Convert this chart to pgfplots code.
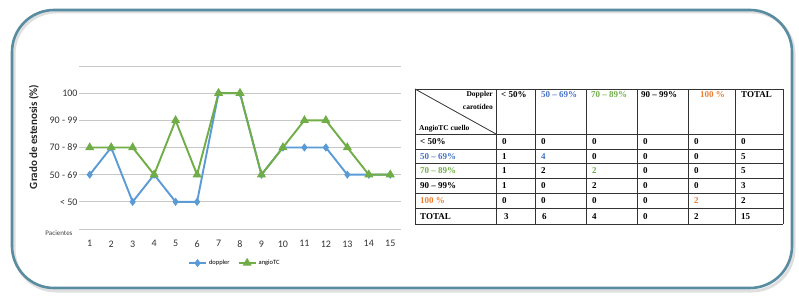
\documentclass[border=0pt]{standalone}
\usepackage{fontspec}
\setmainfont{Carlito}
\newfontfamily\tnr{Liberation Serif}
\usepackage{pgfplots}
\pgfplotsset{compat=1.18}
\definecolor{dblue}{RGB}{91,155,213}
\definecolor{dgreen}{RGB}{112,173,71}
\definecolor{tblue}{RGB}{68,114,196}
\definecolor{tgreen}{RGB}{112,173,71}
\definecolor{torange}{RGB}{237,125,49}
\definecolor{frame}{RGB}{88,140,160}
\begin{document}
\begin{tikzpicture}
\path[use as bounding box] (0pt,0pt) rectangle (799pt,297pt);
% frame
\draw[gray!25, line width=3pt, rounded corners=42pt] (14pt,6pt) rectangle (794pt,285pt);
\draw[frame, line width=2.6pt, rounded corners=42pt] (12pt,9pt) rectangle (792pt,287pt);
\begin{axis}[
  at={(79pt,68pt)}, anchor=south west, scale only axis,
  width=322pt, height=163pt,
  xmin=0.5, xmax=15.5, ymin=0, ymax=6,
  xtick={1,...,15}, ytick={0,...,6},
  yticklabels={,{< 50},{50 - 69},{70 - 89},{90 - 99},100,},
  ymajorgrids, grid style={black!22, line width=0.9pt},
  axis line style={draw=none}, major tick length=0pt,
  /pgf/number format/assume math mode=true,
  tick label style={font=\fontsize{10}{11}\selectfont, text=black!80},
  yticklabel style={xshift=2pt},
  xticklabel style={yshift=-8pt},
  clip=false,
  legend columns=2,
  legend style={at={(axis description cs:0.484,-0.209)}, anchor=center, draw=none, fill=none,
    font=\fontsize{6.5}{7}\selectfont, /tikz/every even column/.append style={column sep=6pt}},
]
\addplot[dblue, line width=1.9pt, mark=diamond*, mark size=2.6pt] coordinates {
(1,2)(2,3)(3,1)(4,2)(5,1)(6,1)(7,5)(8,5)(9,2)(10,3)(11,3)(12,3)(13,2)(14,2)(15,2)};
\addlegendentry{doppler}
\addplot[dgreen, line width=1.9pt, mark=triangle*, mark size=3.4pt] coordinates {
(1,3)(2,3)(3,3)(4,2)(5,4)(6,2)(7,5)(8,5)(9,2)(10,3)(11,4)(12,4)(13,3)(14,2)(15,2)};
\addlegendentry{angioTC}
\end{axis}
\node[rotate=90, font=\fontsize{11}{12}\selectfont\bfseries, text=black!85] at (34pt,160pt) {Grado de estenosis (\%)};
\node[anchor=east, font=\fontsize{7}{8}\selectfont, text=black!75] at (76pt,64pt) {Pacientes};
% table
\begin{scope}[line width=0.8pt, draw=black!80]
\foreach \x in {415,496,535,586,637,688,735,783} \draw (\x pt,73pt) -- (\x pt,208pt);
\foreach \y in {208,163,148,133.5,118.5,103.5,88.5,73} \draw (415pt,\y pt) -- (783pt,\y pt);
\draw (415pt,208pt) -- (496pt,163pt);
\end{scope}
\begin{scope}[every node/.style={font=\tnr\bfseries\fontsize{9}{10}\selectfont, inner sep=0pt, anchor=west}]
\node[anchor=east, font=\tnr\bfseries\fontsize{7.5}{8}\selectfont] at (493pt,202pt) {Doppler};
\node[anchor=east, font=\tnr\bfseries\fontsize{7.5}{8}\selectfont] at (493pt,190pt) {carotídeo};
\node[font=\tnr\bfseries\fontsize{7.5}{8}\selectfont] at (419pt,168pt) {AngioTC cuello};
\node at (501pt,202pt) {< 50\%};
\node[text=tblue] at (541pt,202pt) {50 – 69\%};
\node[text=tgreen] at (591pt,202pt) {70 – 89\%};
\node at (641pt,202pt) {90 – 99\%};
\node[text=torange] at (700pt,202pt) {100 \%};
\node at (741pt,202pt) {TOTAL};
% rows
\node at (420pt,155.5pt) {< 50\%};
\node[text=tblue] at (420pt,140.75pt) {50 – 69\%};
\node[text=tgreen] at (420pt,126pt) {70 – 89\%};
\node at (420pt,111pt) {90 – 99\%};
\node[text=torange] at (420pt,96pt) {100 \%};
\node at (420pt,80.75pt) {TOTAL};
% values
\foreach \y/\a/\b/\c/\d/\e/\f in {155.5/0/0/0/0/0/0, 111/1/0/2/0/0/3} {
  \node at (502pt,\y pt) {\a}; \node at (541pt,\y pt) {\b}; \node at (592pt,\y pt) {\c};
  \node at (643pt,\y pt) {\d}; \node at (694pt,\y pt) {\e}; \node at (741pt,\y pt) {\f};
}
\node at (502pt,140.75pt) {1}; \node[text=tblue] at (541pt,140.75pt) {4}; \node at (592pt,140.75pt) {0};
\node at (643pt,140.75pt) {0}; \node at (694pt,140.75pt) {0}; \node at (741pt,140.75pt) {5};
\node at (502pt,126pt) {1}; \node at (541pt,126pt) {2}; \node[text=tgreen] at (592pt,126pt) {2};
\node at (643pt,126pt) {0}; \node at (694pt,126pt) {0}; \node at (741pt,126pt) {5};
\node at (502pt,96pt) {0}; \node at (541pt,96pt) {0}; \node at (592pt,96pt) {0};
\node at (643pt,96pt) {0}; \node[text=torange] at (694pt,96pt) {2}; \node at (741pt,96pt) {2};
\node at (504pt,80.75pt) {3}; \node at (542pt,80.75pt) {6}; \node at (592pt,80.75pt) {4};
\node at (643pt,80.75pt) {0}; \node at (694pt,80.75pt) {2}; \node at (741pt,80.75pt) {15};
\end{scope}
\end{tikzpicture}
\end{document}
